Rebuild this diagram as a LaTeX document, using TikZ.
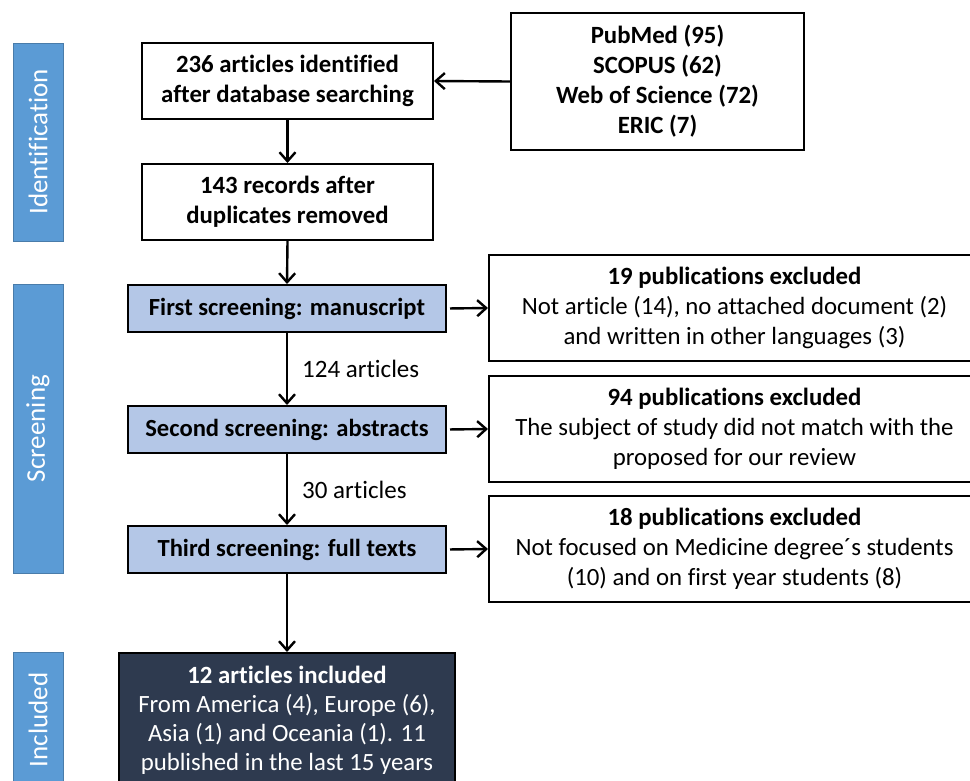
\documentclass[tikz,border=0pt]{standalone}
\usepackage{fontspec}
\setmainfont{Carlito}[Ligatures=NoCommon]
\usetikzlibrary{arrows.meta}
\definecolor{barblue}{HTML}{5B9BD5}
\definecolor{scrfill}{HTML}{B4C7E7}
\definecolor{darkbox}{HTML}{2E3A4F}
\tikzset{
  box/.style={draw=black, line width=2pt, rectangle, align=center, inner sep=0pt, font=\fontsize{24.8}{30}\selectfont},
  whitebox/.style={box, fill=white},
  scrbox/.style={box, fill=scrfill, font=\fontsize{24.6}{30}\selectfont\bfseries},
  bar/.style={draw=barblue!80!black, line width=0.8pt, fill=barblue, rectangle, inner sep=0pt},
  bartext/.style={rotate=90, text=white, inner sep=0pt, font=\fontsize{27}{30}\selectfont},
  arr/.style={line width=2.4pt, -{Straight Barb[length=9pt,width=16pt,line width=2.4pt]}},
  lbl/.style={font=\fontsize{25}{30}\selectfont, inner sep=0pt}
}
\begin{document}
\begin{tikzpicture}[x=1pt,y=-1pt]
\useasboundingbox (0,0) rectangle (970,780);
\clip (0,0) rectangle (970,780);
\fill[white] (0,0) rectangle (970,780);
% phase bars
\node[bar, minimum width=50pt, minimum height=198pt] (idbar) at (38,142) {};
\node[bartext] (idtxt) at (idbar.center) {Identification};
\node[bar, minimum width=50pt, minimum height=289pt] (scrbar) at (38,428.5) {};
\node[bartext] (scrtxt) at (scrbar.center) {Screening};
\node[bar, minimum width=50pt, minimum height=160pt] (incbar) at (38,732) {};
\node[bartext] (inctxt) at (38,720) {Included};
% identification
\node[whitebox, font=\fontsize{24.8}{30}\selectfont\bfseries, minimum width=291pt, minimum height=76pt] (b1) at (287.5,81) {236 articles identified\\after database searching};
\node[whitebox, font=\fontsize{24.8}{30}\selectfont\bfseries, minimum width=291pt, minimum height=76pt] (b2) at (287.5,202) {143 records after\\duplicates removed};
\node[whitebox, font=\fontsize{24.8}{30}\selectfont\bfseries, minimum width=293pt, minimum height=137pt] (src) at (657.5,81.5) {PubMed (95)\\SCOPUS (62)\\Web of Science (72)\\ERIC (7)};
% screening
\node[scrbox, minimum width=318pt, minimum height=47pt] (s1) at (287,308.5) {First screening: manuscript};
\node[scrbox, minimum width=318pt, minimum height=47pt] (s2) at (287,429.5) {Second screening: abstracts};
\node[scrbox, minimum width=318pt, minimum height=47pt] (s3) at (287,549.5) {Third screening: full texts};
% exclusions
\node[whitebox, minimum width=491pt, minimum height=106pt] (e1) at (734.5,308) {\textbf{19 publications excluded}\\Not article (14), no attached document (2)\\and written in other languages (3)};
\node[whitebox, minimum width=491pt, minimum height=106pt] (e2) at (734.5,429) {\textbf{94 publications excluded}\\The subject of study did not match with the\\proposed for our review};
\node[whitebox, minimum width=491pt, minimum height=106pt] (e3) at (734.5,549) {\textbf{18 publications excluded}\\Not focused on Medicine degree´s students\\(10) and on first year students (8)};
% included
\node[box, fill=darkbox, text=white, minimum width=336pt, inner ysep=13pt, anchor=north, font=\fontsize{24.8}{29}\selectfont] (inc) at (287,652) {\textbf{12 articles included}\\From America (4), Europe (6),\\Asia (1) and Oceania (1). 11\\published in the last 15 years};
% connectors
\draw[arr] (src.west) -- (b1.east);
\draw[arr] (b1.south) -- (b2.north);
\draw[arr] (b2.south) -- (s1.north);
\draw[arr] (s1.south) -- node[lbl, right, xshift=14pt] (l1) {124 articles} (s2.north);
\draw[arr] (s2.south) -- node[lbl, right, xshift=14pt] (l2) {30 articles} (s3.north);
\draw[arr] (s3.south) -- (inc.north);
\draw[arr, shorten <=3pt] (s1.east) -- (e1.west);
\draw[arr, shorten <=3pt] (s2.east) -- (e2.west);
\draw[arr, shorten <=3pt] (s3.east) -- (e3.west);
\end{tikzpicture}
\end{document}
